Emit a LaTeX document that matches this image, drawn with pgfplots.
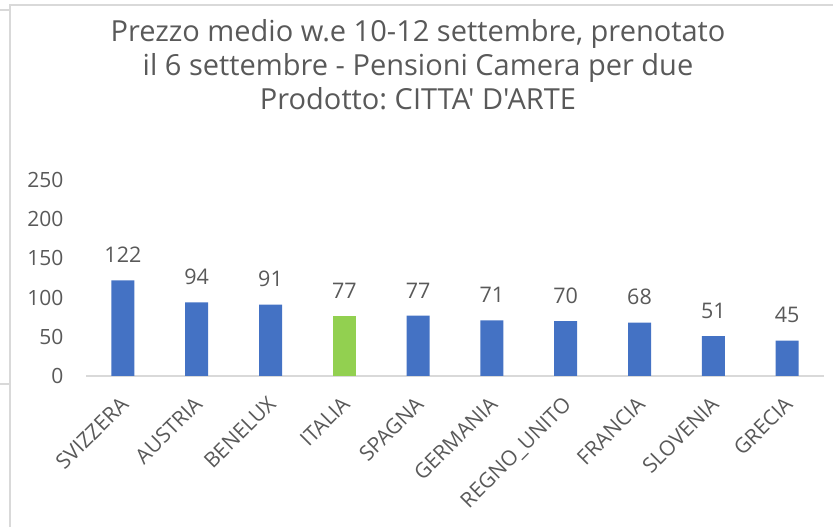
\documentclass[border=0pt]{standalone}
\usepackage{fontspec}
\setmainfont{Open Sans}[Ligatures=TeXOff]
\usepackage{pgfplots}
\pgfplotsset{compat=1.18}
\definecolor{barblue}{HTML}{4472C4}
\definecolor{bargreen}{HTML}{92D050}
\definecolor{txt}{HTML}{595959}
\definecolor{grid}{HTML}{D9D9D9}
\frenchspacing
\begin{document}
\begin{tikzpicture}[x=1pt,y=1pt]
\path[use as bounding box] (0,0) rectangle (833,527);
% chart frame
\draw[grid,line width=1.5pt] (10,0) -- (10,522) -- (833,522);
\draw[grid,line width=1.5pt] (0,517) -- (10,517);
\draw[grid,line width=1.5pt] (0,143) -- (10,143);
% title
\node[anchor=base,text=txt,font=\fontsize{29}{34}\selectfont] at (418,485) {Prezzo medio w.e 10-12 settembre, prenotato};
\node[anchor=base,text=txt,font=\fontsize{29}{34}\selectfont] at (418,451) {il 6 settembre - Pensioni Camera per due};
\node[anchor=base,text=txt,font=\fontsize{29}{34}\selectfont] at (418,417) {Prodotto: CITTA' D'ARTE};
\begin{axis}[
  at={(86pt,151pt)}, anchor=south west,
  scale only axis, width=738pt, height=196pt,
  xmin=-0.5, xmax=9.5, ymin=0, ymax=250,
  axis lines*=left,
  axis x line*=bottom,
  x axis line style={grid,line width=1.5pt,-},
  y axis line style={draw=none},
  xtick={0,...,9},
  xticklabels={SVIZZERA,AUSTRIA,BENELUX,ITALIA,SPAGNA,GERMANIA,REGNO\_UNITO,FRANCIA,SLOVENIA,GRECIA},
  ytick={0,50,100,150,200,250},
  major tick length=0pt,
  /pgf/number format/assume math mode=true,
  ticklabel style={text=txt,font=\fontsize{21}{25}\selectfont},
  yticklabel style={xshift=-19pt},
  xticklabel style={xshift=-4pt,yshift=-14pt,rotate=45,anchor=north east},
  ybar, bar width=23pt, bar shift=0pt,
  nodes near coords,
  every node near coord/.append style={text=txt,font=\fontsize{21.5}{25}\selectfont,yshift=14pt},
  clip=false,
]
\addplot[fill=barblue,draw=none] coordinates {(0,122) (1,94) (2,91) (4,77) (5,71) (6,70) (7,68) (8,51) (9,45)};
\addplot[fill=bargreen,draw=none] coordinates {(3,77)};
\end{axis}
\end{tikzpicture}
\end{document}
